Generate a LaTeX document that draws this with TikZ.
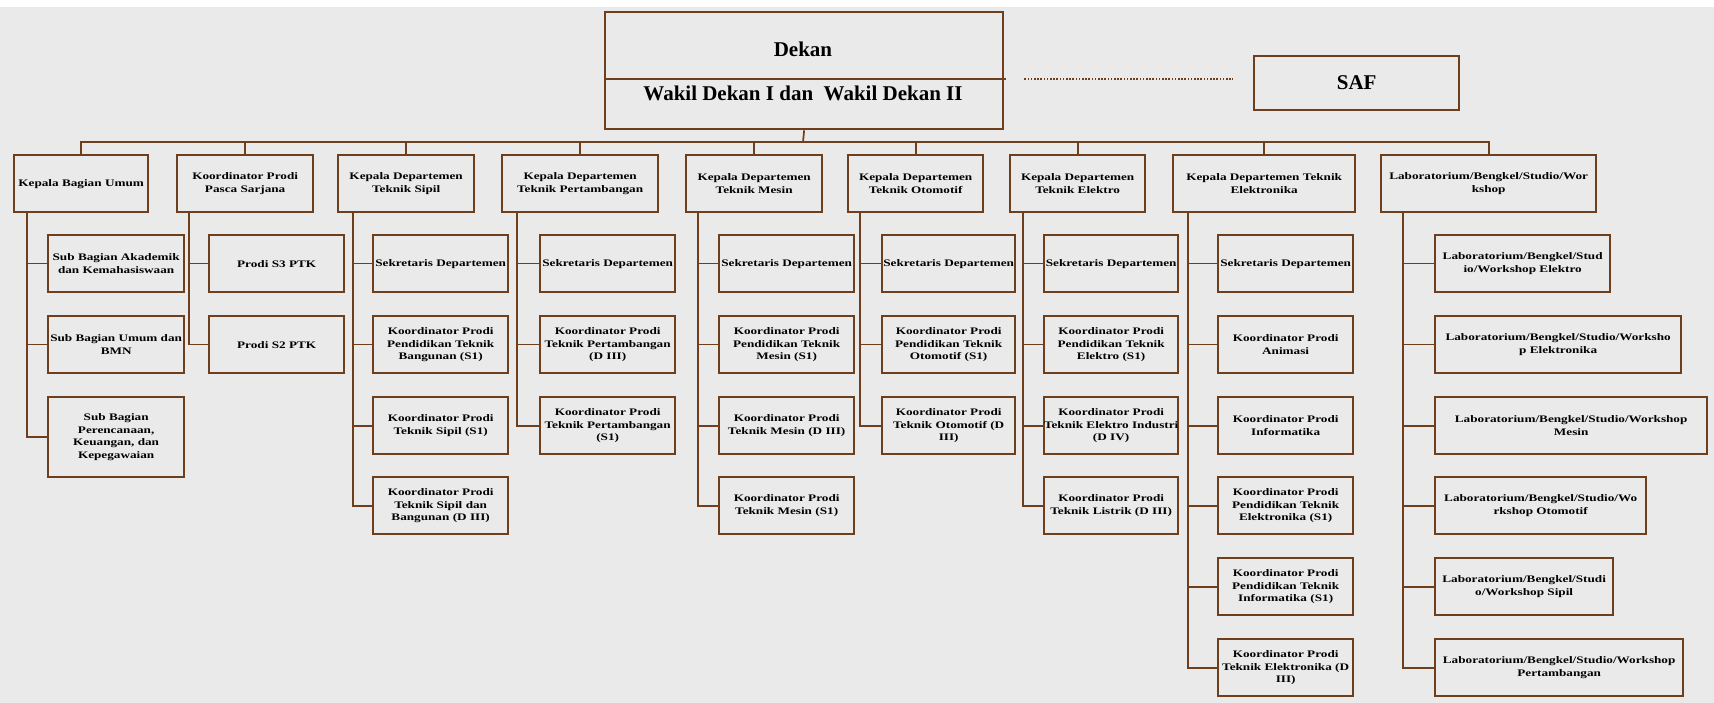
\documentclass[tikz,border=0pt]{standalone}
\usepackage{fontspec}
\setmainfont{Liberation Serif}
\newfontfamily\orgfont[FakeStretch=1.32]{Liberation Serif}
\hyphenpenalty=10000
\exhyphenpenalty=10000

\definecolor{bgfill}{HTML}{EAEAEA}
\definecolor{boxline}{HTML}{6E3F1C}

\tikzset{
  box/.style={draw=boxline, line width=2.3pt, fill=bgfill, anchor=north west,
    align=center, inner ysep=1pt, inner xsep=-4pt, minimum height=57pt,
    minimum width=#1, text width=#1+6pt,
    font=\orgfont\bfseries\fontsize{10}{12.5}\selectfont},
  link/.style={draw=boxline, line width=1.7pt},
  bigtext/.style={font=\bfseries\fontsize{21}{24}\selectfont},
}

\begin{document}
\begin{tikzpicture}[x=1pt, y=-1pt]

% Background
\fill[bgfill] (0,0) rectangle (1714,703);
\fill[white] (0,0) rectangle (1714,7);
\useasboundingbox (0,0) rectangle (1714,703);

% Dekan and SAF
\node[box=398pt, minimum height=117pt] (dekan) at (604,11) {};
\node[bigtext] (dekantxt) at (803,49) {Dekan};
\node[bigtext] (wakil) at (803,93) {Wakil Dekan I dan~~Wakil Dekan II};
\coordinate (sep) at (604,79);
\draw[link, line width=2.3pt] (dekan.west |- sep) -- ([xshift=2pt]dekan.east |- sep);

\node[box=205pt, minimum height=54pt] (saf) at (1253,55) {};
\node[bigtext] (saftxt) at (saf.center) {SAF};
\draw[boxline, line width=1.1pt, dash pattern=on 1.6pt off 1.6pt]
  ([xshift=20pt]dekan.east |- sep) -- ([xshift=-20pt]saf.west |- sep);

% Top row
\node[box=134pt] (umum) at (13,154) {Kepala Bagian Umum};
\node[box=136pt] (pasca) at (176,154) {Koordinator Prodi\\Pasca Sarjana};
\node[box=136pt] (sipil) at (337,154) {Kepala Departemen\\Teknik Sipil};
\node[box=156pt] (tambang) at (501,154) {Kepala Departemen\\Teknik Pertambangan};
\node[box=136pt] (mesin) at (685,154) {Kepala Departemen\\Teknik Mesin};
\node[box=135pt] (otomotif) at (847,154) {Kepala Departemen\\Teknik Otomotif};
\node[box=135pt] (elektro) at (1009,154) {Kepala Departemen\\Teknik Elektro};
\node[box=182pt] (elektronika) at (1172,154) {Kepala Departemen Teknik\\Elektronika};
\node[box=215pt] (lab) at (1380,154) {Laboratorium/Bengkel/Studio/Wor\\kshop};

% Bus
\coordinate (bus) at (803,142);
\draw[link] (dekan.south) -- (bus);
\foreach \n in {umum,pasca,sipil,tambang,mesin,otomotif,elektro,elektronika,lab}
  \draw[link] (\n.north) |- (bus);

% Bagian Umum
\node[box=136pt] (umum1) at (47,234) {Sub Bagian Akademik\\dan Kemahasiswaan};
\node[box=136pt] (umum2) at (47,315) {Sub Bagian Umum dan\\BMN};
\node[box=136pt, minimum height=80pt] (umum3) at (47,396) {Sub Bagian\\Perencanaan,\\Keuangan, dan\\Kepegawaian};
\foreach \c in {umum1,umum2,umum3}
  \draw[link] ([xshift=14pt]umum.south west) |- (\c.west);

% Pasca Sarjana
\node[box=135pt] (pasca1) at (208,234) {Prodi S3 PTK};
\node[box=135pt] (pasca2) at (208,315) {Prodi S2 PTK};
\foreach \c in {pasca1,pasca2}
  \draw[link] ([xshift=13pt]pasca.south west) |- (\c.west);

% Teknik Sipil
\node[box=135pt] (sipil1) at (372,234) {Sekretaris Departemen};
\node[box=135pt] (sipil2) at (372,315) {Koordinator Prodi\\Pendidikan Teknik\\Bangunan (S1)};
\node[box=135pt] (sipil3) at (372,396) {Koordinator Prodi\\Teknik Sipil (S1)};
\node[box=135pt] (sipil4) at (372,476) {Koordinator Prodi\\Teknik Sipil dan\\Bangunan (D III)};
\foreach \c in {sipil1,sipil2,sipil3,sipil4}
  \draw[link] ([xshift=16pt]sipil.south west) |- (\c.west);

% Teknik Pertambangan
\node[box=135pt] (tambang1) at (539,234) {Sekretaris Departemen};
\node[box=135pt] (tambang2) at (539,315) {Koordinator Prodi\\Teknik Pertambangan\\(D III)};
\node[box=135pt] (tambang3) at (539,396) {Koordinator Prodi\\Teknik Pertambangan\\(S1)};
\foreach \c in {tambang1,tambang2,tambang3}
  \draw[link] ([xshift=16pt]tambang.south west) |- (\c.west);

% Teknik Mesin
\node[box=135pt] (mesin1) at (718,234) {Sekretaris Departemen};
\node[box=135pt] (mesin2) at (718,315) {Koordinator Prodi\\Pendidikan Teknik\\Mesin (S1)};
\node[box=135pt] (mesin3) at (718,396) {Koordinator Prodi\\Teknik Mesin (D III)};
\node[box=135pt] (mesin4) at (718,476) {Koordinator Prodi\\Teknik Mesin (S1)};
\foreach \c in {mesin1,mesin2,mesin3,mesin4}
  \draw[link] ([xshift=13pt]mesin.south west) |- (\c.west);

% Teknik Otomotif
\node[box=133pt] (otomotif1) at (881,234) {Sekretaris Departemen};
\node[box=133pt] (otomotif2) at (881,315) {Koordinator Prodi\\Pendidikan Teknik\\Otomotif (S1)};
\node[box=133pt] (otomotif3) at (881,396) {Koordinator Prodi\\Teknik Otomotif (D\\III)};
\foreach \c in {otomotif1,otomotif2,otomotif3}
  \draw[link] ([xshift=13pt]otomotif.south west) |- (\c.west);

% Teknik Elektro
\node[box=134pt] (elektro1) at (1043,234) {Sekretaris Departemen};
\node[box=134pt] (elektro2) at (1043,315) {Koordinator Prodi\\Pendidikan Teknik\\Elektro (S1)};
\node[box=134pt] (elektro3) at (1043,396) {Koordinator Prodi\\Teknik Elektro Industri\\(D IV)};
\node[box=134pt] (elektro4) at (1043,476) {Koordinator Prodi\\Teknik Listrik (D III)};
\foreach \c in {elektro1,elektro2,elektro3,elektro4}
  \draw[link] ([xshift=14pt]elektro.south west) |- (\c.west);

% Teknik Elektronika
\node[box=135pt] (elektronika1) at (1217,234) {Sekretaris Departemen};
\node[box=135pt] (elektronika2) at (1217,315) {Koordinator Prodi\\Animasi};
\node[box=135pt] (elektronika3) at (1217,396) {Koordinator Prodi\\Informatika};
\node[box=135pt] (elektronika4) at (1217,476) {Koordinator Prodi\\Pendidikan Teknik\\Elektronika (S1)};
\node[box=135pt] (elektronika5) at (1217,557) {Koordinator Prodi\\Pendidikan Teknik\\Informatika (S1)};
\node[box=135pt] (elektronika6) at (1217,638) {Koordinator Prodi\\Teknik Elektronika (D\\III)};
\foreach \c in {elektronika1,elektronika2,elektronika3,elektronika4,elektronika5,elektronika6}
  \draw[link] ([xshift=16pt]elektronika.south west) |- (\c.west);

% Laboratorium
\node[box=175pt] (lab1) at (1434,234) {Laboratorium/Bengkel/Stud\\io/Workshop Elektro};
\node[box=246pt] (lab2) at (1434,315) {Laboratorium/Bengkel/Studio/Worksho\\p Elektronika};
\node[box=272pt] (lab3) at (1434,396) {Laboratorium/Bengkel/Studio/Workshop\\Mesin};
\node[box=211pt] (lab4) at (1434,476) {Laboratorium/Bengkel/Studio/Wo\\rkshop Otomotif};
\node[box=178pt] (lab5) at (1434,557) {Laboratorium/Bengkel/Studi\\o/Workshop Sipil};
\node[box=248pt] (lab6) at (1434,638) {Laboratorium/Bengkel/Studio/Workshop\\Pertambangan};
\foreach \c in {lab1,lab2,lab3,lab4,lab5,lab6}
  \draw[link] ([xshift=23pt]lab.south west) |- (\c.west);

\end{tikzpicture}
\end{document}
